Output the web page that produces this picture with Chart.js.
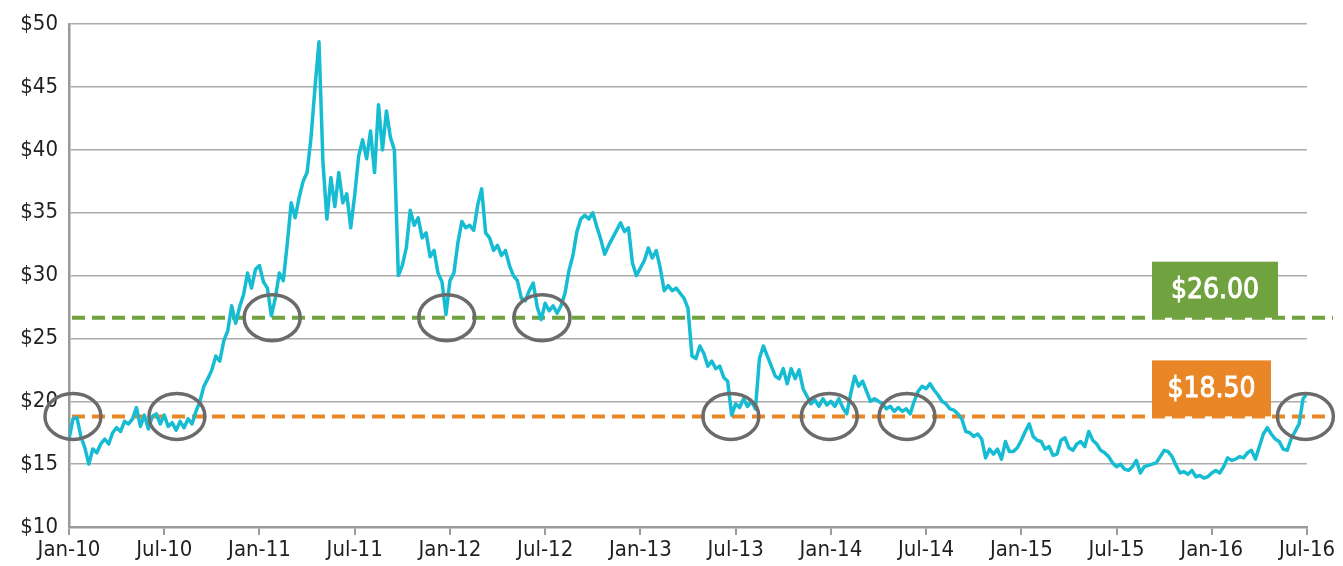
<!DOCTYPE html>
<html>
<head>
<meta charset="utf-8">
<script src="https://cdn.jsdelivr.net/npm/chart.js@4.4.1/dist/chart.umd.min.js"></script>
<style>
  body { margin: 0; background: #fff; }
  canvas { display: block; }
</style>
</head>
<body>
<canvas id="priceChart" width="1343" height="566"></canvas>
<script>
// price, sampled four times a month, starting Jan-10
const p2010 = [17.0,18.6,18.7,17.2,16.3,15.0,16.2,15.9,16.6,17.0,16.6,17.5,17.9,17.6,18.4,18.2,18.6,19.5,18.0,18.9,17.8,18.8,19.0,18.2,18.9,18.0,18.3,17.7,18.4,17.9,18.6,18.2,19.2,20.0,21.2,21.8,22.5,23.6,23.2,24.8,25.6,27.6,26.2,27.5,28.5,30.2,29.0,30.5];
const p2011 = [30.8,29.5,29.0,26.8,28.2,30.2,29.6,32.5,35.8,34.6,36.2,37.5,38.2,41.0,45.0,48.6,39.0,34.5,37.8,35.5,38.2,35.8,36.5,33.8,36.4,39.5,40.8,39.3,41.5,38.2,43.6,40.0,43.1,41.0,40.0,30.0,30.8,32.2,35.2,34.0,34.6,33.0,33.4,31.5,32.0,30.2,29.5,26.9];
const p2012 = [29.6,30.2,32.6,34.3,33.8,34.0,33.6,35.6,36.9,33.4,33.0,32.0,32.4,31.6,32.0,30.8,30.0,29.6,28.2,28.0,28.8,29.4,27.5,26.5,27.8,27.2,27.6,27.0,27.6,28.6,30.4,31.6,33.5,34.5,34.8,34.5,35.0,33.9,32.9,31.7,32.4,33.0,33.6,34.2,33.5,33.8,31.0,30.0];
const p2013 = [30.6,31.2,32.2,31.4,32.0,30.6,28.8,29.2,28.8,29.0,28.6,28.2,27.4,23.6,23.4,24.4,23.8,22.8,23.2,22.6,22.8,21.9,21.6,18.9,19.8,19.5,20.2,19.6,20.0,19.4,23.4,24.4,23.6,22.8,22.0,21.8,22.6,21.4,22.6,21.8,22.5,21.0,20.4,19.8,20.1,19.6,20.2,19.7];
const p2014 = [20.0,19.6,20.2,19.5,19.0,20.6,22.0,21.2,21.6,20.8,20.0,20.2,20.0,19.8,19.4,19.6,19.2,19.5,19.2,19.4,19.0,20.0,20.8,21.2,21.0,21.4,20.9,20.5,20.0,19.8,19.4,19.3,19.0,18.6,17.6,17.5,17.2,17.4,17.0,15.5,16.2,15.8,16.2,15.4,16.8,16.0,16.0,16.3];
const p2015 = [16.9,17.6,18.2,17.2,16.9,16.8,16.2,16.4,15.7,15.8,16.9,17.1,16.3,16.1,16.6,16.8,16.4,17.6,16.9,16.6,16.1,15.9,15.6,15.1,14.8,15.0,14.6,14.5,14.8,15.3,14.3,14.8,14.9,15.0,15.1,15.6,16.1,16.0,15.6,14.9,14.3,14.4,14.2,14.5,14.0,14.1,13.9,14.0];
const p2016 = [14.3,14.5,14.3,14.8,15.5,15.3,15.4,15.6,15.5,15.9,16.1,15.4,16.4,17.4,17.9,17.4,17.0,16.8,16.2,16.1,17.0,17.6,18.2,20.2,20.6];

const tickLabels = ['Jan-10','Jul-10','Jan-11','Jul-11','Jan-12','Jul-12','Jan-13','Jul-13','Jan-14','Jul-14','Jan-15','Jul-15','Jan-16','Jul-16'];

// support / resistance levels
const levelValues = [26.65, 18.8];
const levelLabels = ['$26.00', '$18.50'];
const levelColors = ['#70a33f', '#e98727'];

// circled touches: month since Jan-10, and which level
const circleMonths = [0.25, 6.8, 12.8, 23.8, 29.8, 41.7, 47.9, 52.8, 77.9];
const circleLevel  = [1, 1, 0, 0, 0, 1, 1, 1, 1];

const prices = [].concat(p2010, p2011, p2012, p2013, p2014, p2015, p2016);
const points = prices.map((v, i) => ({ x: i / 4, y: v }));

const FONT = '"DejaVu Sans Condensed", "DejaVu Sans", sans-serif';

const levelsPlugin = {
    id: 'levels',
    beforeDatasetsDraw(chart) {
        const { ctx, chartArea, scales: { y } } = chart;
        ctx.save();
        levelValues.forEach((v, i) => {
            const py = y.getPixelForValue(v);
            // label box
            const bw = i === 0 ? 126 : 119;
            const bx = chartArea.right - 155;
            ctx.fillStyle = levelColors[i];
            ctx.fillRect(bx, py - 56, bw, 56);
            ctx.fillStyle = '#fff';
            ctx.strokeStyle = '#fff';
            ctx.lineWidth = 0.9;
            ctx.font = '28px ' + FONT;
            ctx.textAlign = 'center';
            ctx.textBaseline = 'middle';
            ctx.fillText(levelLabels[i], bx + bw / 2, py - 27);
            ctx.strokeText(levelLabels[i], bx + bw / 2, py - 27);
            // dashed line
            ctx.strokeStyle = levelColors[i];
            ctx.lineWidth = 4;
            ctx.setLineDash([13, 7]);
            ctx.beginPath();
            ctx.moveTo(chartArea.left + 3, py);
            ctx.lineTo(chartArea.right + 26, py);
            ctx.stroke();
            ctx.setLineDash([]);
        });
        ctx.restore();
    },
    afterDatasetsDraw(chart) {
        const { ctx, scales: { x, y } } = chart;
        ctx.save();
        ctx.strokeStyle = '#6b6b6b';
        ctx.lineWidth = 3.5;
        circleMonths.forEach((m, i) => {
            const cx = x.getPixelForValue(m);
            const cy = y.getPixelForValue(levelValues[circleLevel[i]]);
            ctx.beginPath();
            ctx.ellipse(cx, cy, 28, 23, 0, 0, Math.PI * 2);
            ctx.stroke();
        });
        ctx.restore();
    }
};

new Chart(document.getElementById('priceChart'), {
    type: 'line',
    data: {
        datasets: [{
            data: points,
            borderColor: '#16bcd2',
            borderWidth: 3.5,
            pointRadius: 0,
            tension: 0,
            borderJoinStyle: 'round'
        }]
    },
    options: {
        responsive: false,
        animation: false,
        events: [],
        layout: { padding: { top: 21, right: 36, left: 0, bottom: 0 } },
        plugins: {
            legend: { display: false },
            tooltip: { enabled: false }
        },
        scales: {
            x: {
                type: 'linear',
                min: 0,
                max: 78,
                afterBuildTicks: (s) => { s.ticks = tickLabels.map((_, i) => ({ value: i * 6 })); },
                afterFit: (s) => { s.height = 39; },
                ticks: {
                    autoSkip: false,
                    maxRotation: 0,
                    padding: 2,
                    color: '#231f20',
                    font: { family: FONT, size: 22 },
                    callback: (v) => tickLabels[Math.round(v / 6)]
                },
                grid: { drawOnChartArea: false, tickLength: 8, color: '#9a9a9a', lineWidth: 2 },
                border: { color: '#9a9a9a', width: 2.5 }
            },
            y: {
                min: 10,
                max: 50,
                afterFit: (s) => { s.width = 69; },
                ticks: {
                    stepSize: 5,
                    padding: 11,
                    color: '#231f20',
                    font: { family: FONT, size: 22 },
                    callback: (v) => '$' + v
                },
                grid: { drawTicks: false, color: '#ababab', lineWidth: 1.5 },
                border: { color: '#9a9a9a', width: 2.5 }
            }
        }
    },
    plugins: [levelsPlugin]
});
</script>
</body>
</html>
